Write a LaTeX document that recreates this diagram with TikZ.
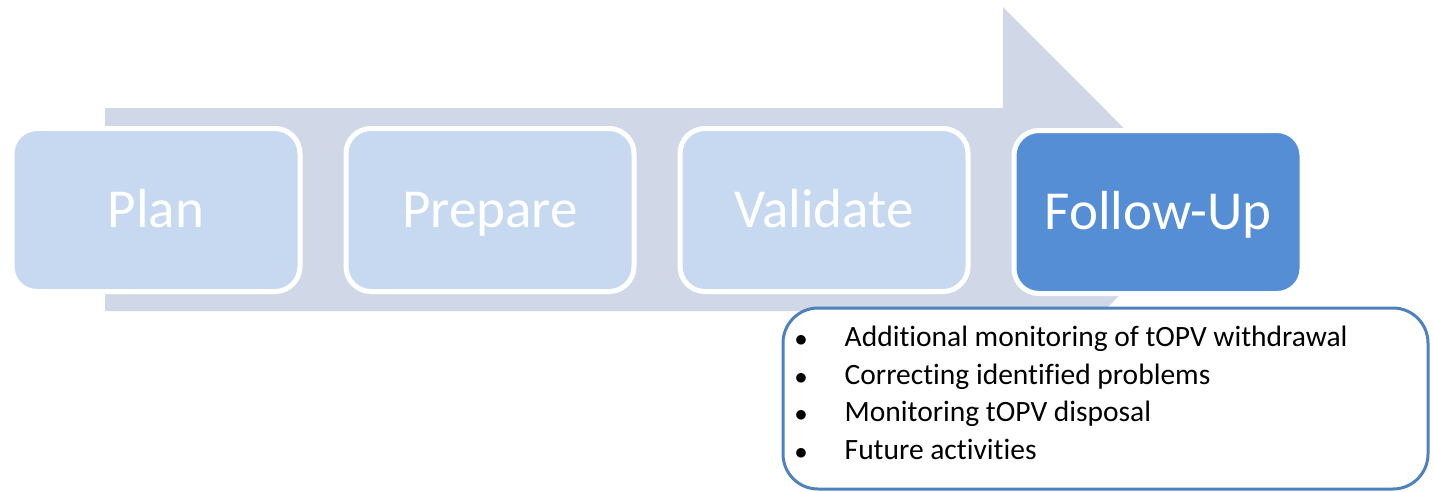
\documentclass[tikz,border=0pt]{standalone}
\usepackage{fontspec}
\setmainfont[Ligatures=NoCommon]{Carlito}
\usetikzlibrary{positioning}
\definecolor{arrowgray}{HTML}{D0D8E8}
\definecolor{stagelight}{HTML}{C6D9F0}
\definecolor{stagedark}{HTML}{558ED5}
\definecolor{listline}{HTML}{4F81BD}
\newcommand{\listdot}{\makebox[11pt]{\fontsize{34}{37}\selectfont$\bullet$}}
\begin{document}
\begin{tikzpicture}[x=1pt,y=-1pt]
			\useasboundingbox (0,0) rectangle (1434,491);
			% big arrow behind the stages
			\fill [arrowgray] (105,108) -- (1003,108) -- (1003,7) -- (1205,209.5)
				-- (1003,412) -- (1003,311) -- (105,311) -- cycle;
			
			\begin{scope}[node distance=41pt,every node/.style={draw=white,line width=5pt,rounded corners=25pt,
					minimum width=288pt,minimum height=163pt,fill=stagelight,text=white,
					text height=40pt,text depth=6pt,font=\fontsize{55}{60}\selectfont}]
				\node (plan) at (156,210) {Plan};
				\node (prepare) [right=of plan] {Prepare};
				\node (validate) [right=of prepare] {Validate};
				\node (followup) [right=of validate,yshift=-2pt,fill=stagedark] {Follow-Up};
			\end{scope}
			
			\node (followlist) [draw=listline,line width=3pt,rounded corners=35pt,fill=white,
				minimum width=645pt,minimum height=181pt,anchor=north west] at (781.5,306.5) {};
			\node (listtext) [anchor=west,inner sep=0pt,font=\fontsize{29.5}{37.5}\selectfont]
				at ([xshift=14pt,yshift=3pt]followlist.west) {%
				\begin{tabular}{@{}l@{\hspace{38pt}}l@{}}
					\listdot & Additional monitoring of tOPV withdrawal\\
					\listdot & Correcting identified problems\\
					\listdot & Monitoring tOPV disposal\\
					\listdot & Future activities
				\end{tabular}};
		\end{tikzpicture}
\end{document}
